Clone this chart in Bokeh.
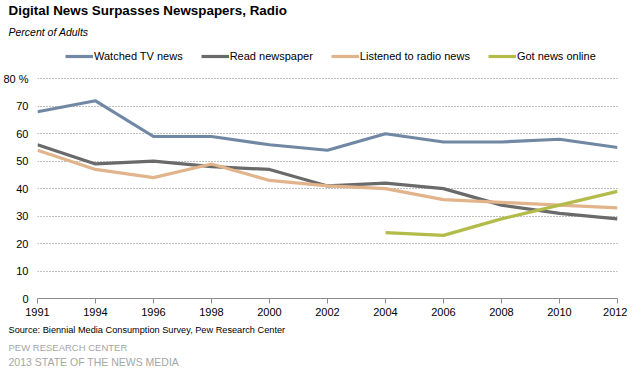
from bokeh.plotting import figure
from bokeh.models import Legend, LegendItem, Title, FixedTicker, Range1d
from bokeh.embed import file_html
from bokeh.resources import INLINE

years = ["1991", "1994", "1996", "1998", "2000", "2002", "2004", "2006", "2008", "2010", "2012"]
tv_news = [68, 72, 59, 59, 56, 54, 60, 57, 57, 58, 55]
newspaper = [56, 49, 50, 48, 47, 41, 42, 40, 34, 31, 29]
radio = [54, 47, 44, 49, 43, 41, 40, 36, 35, 34, 33]
online_years = ["2004", "2006", "2008", "2010", "2012"]
online = [24, 23, 29, 34, 39]
y_ticks = [0, 10, 20, 30, 40, 50, 60, 70, 80]

FONT = "Liberation Sans"
W, H = 627, 369
p = figure(width=W, height=H, output_backend="svg", toolbar_location=None,
           x_range=Range1d(0, len(years) - 1), y_range=Range1d(0, 92.5),
           min_border_left=29, min_border_right=10, min_border_top=38, min_border_bottom=71)
p.outline_line_color = None
p.background_fill_color = "white"
p.title = None

xi = list(range(len(years)))
xo = [years.index(y) for y in online_years]

r_tv = p.line(xi, tv_news, line_color="#7088A4", line_width=3.2)
r_np = p.line(xi, newspaper, line_color="#6A6A6A", line_width=3.2)
r_ra = p.line(xi, radio, line_color="#E2B48C", line_width=3.2)
r_on = p.line(xo, online, line_color="#B3BC4A", line_width=3.2)

# axes
p.xaxis.ticker = FixedTicker(ticks=xi)
p.xaxis.major_label_overrides = {i: y for i, y in enumerate(years)}
p.xaxis.axis_line_color = "#8C8C8C"
p.xaxis.major_tick_line_color = "#8C8C8C"
p.xaxis.major_tick_out = 5
p.xaxis.major_tick_in = 0
p.xaxis.minor_tick_line_color = None
p.xaxis.major_label_text_font = FONT
p.xaxis.major_label_text_font_size = "11px"
p.xaxis.major_label_text_color = "#000000"
p.xaxis.major_label_standoff = 4

p.yaxis.ticker = FixedTicker(ticks=y_ticks)
p.yaxis.major_label_overrides = {80: "80 %"}
p.yaxis.axis_line_color = None
p.yaxis.major_tick_line_color = None
p.yaxis.minor_tick_line_color = None
p.yaxis.major_label_text_font = FONT
p.yaxis.major_label_text_font_size = "11px"
p.yaxis.major_label_text_color = "#000000"
p.yaxis.major_label_standoff = 3

p.xgrid.grid_line_color = None
p.ygrid.ticker = FixedTicker(ticks=y_ticks[1:])
p.ygrid.grid_line_color = "#7F7F7F"
p.ygrid.grid_line_dash = "1 2"
p.ygrid.grid_line_width = 1

legend = Legend(items=[
    LegendItem(label="Watched TV news", renderers=[r_tv]),
    LegendItem(label="Read newspaper", renderers=[r_np]),
    LegendItem(label="Listened to radio news", renderers=[r_ra]),
    LegendItem(label="Got news online", renderers=[r_on]),
], orientation="horizontal", location=(28, 236),
    label_text_font=FONT, label_text_font_size="11px", label_text_color="#000000",
    glyph_width=28, glyph_height=10, label_standoff=1, spacing=18,
    padding=0, margin=0, border_line_color=None, background_fill_alpha=0)
p.add_layout(legend, "center")

def ttl(txt, place, size, standoff, color="#000000", style="normal"):
    p.add_layout(Title(text=txt, align="left", offset=-29, standoff=standoff,
                       text_font=FONT, text_font_size=size, text_font_style=style,
                       text_color=color), place)

# above: stacked outward from the frame
ttl("Percent of Adults", "above", "10.5px", 13, style="italic")
ttl("Digital News  Surpasses  Newspapers,  Radio", "above", "13.4px", 0, style="bold")
# below: stacked outward after the x axis
ttl("Source: Biennial Media Consumption Survey, Pew Research Center", "below", "9.2px", 8)
ttl("PEW RESEARCH CENTER", "below", "9.5px", 2, color="#A6A6A6")
ttl("2013 STATE OF THE NEWS MEDIA", "below", "10.5px", 1, color="#A6A6A6")

open("out.html", "w").write(file_html(p, INLINE))
